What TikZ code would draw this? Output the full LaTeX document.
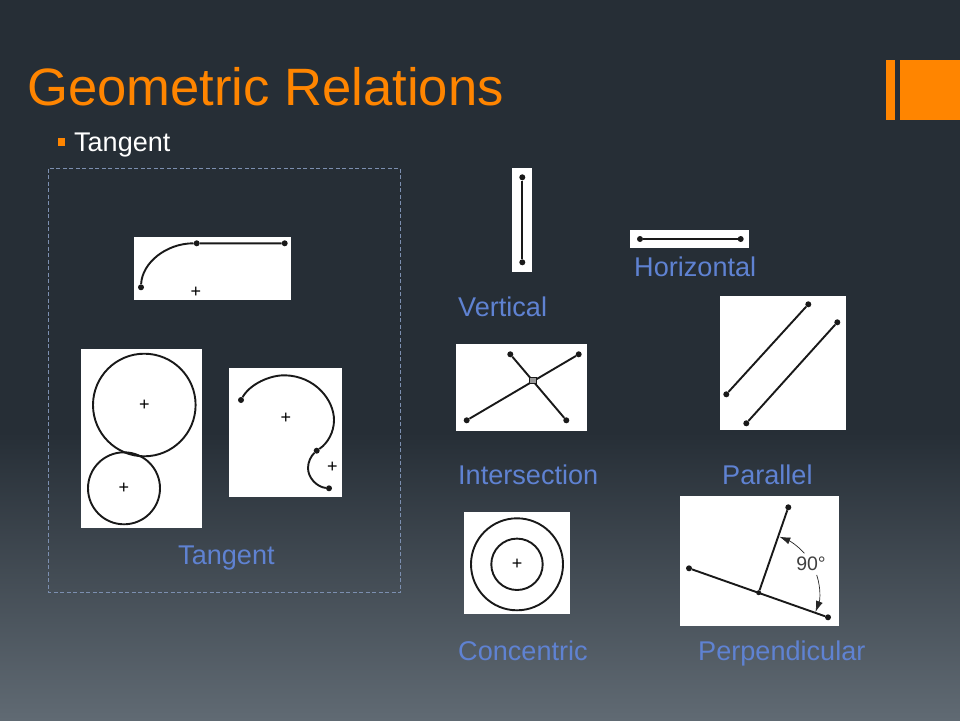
\documentclass[tikz,border=0pt]{standalone}
\usepackage{fontspec}
\setmainfont{Liberation Sans}
\usetikzlibrary{arrows.meta}
\definecolor{bgtop}{HTML}{262E36}
\definecolor{bgbot}{HTML}{606A73}
\definecolor{accent}{HTML}{FF8500}
\definecolor{labelblue}{HTML}{5F82D2}
\definecolor{framedash}{HTML}{7C8FB0}
\pgfdeclareverticalshading{slidebg}{100bp}{color(0bp)=(bgbot); color(25bp)=(bgbot); color(45bp)=(bgtop); color(100bp)=(bgtop)}
\tikzset{
  panel/.style={fill=white,draw=none},
  sk/.style={draw=black!90,line width=1.9pt,line join=round},
  dotmark/.style={fill=black!90,draw=none,circle,inner sep=0pt,minimum size=6pt},
  lbl/.style={anchor=base west,inner sep=0pt,text=labelblue,font=\fontsize{27.1}{27.1}\selectfont},
  crossm/.style={inner sep=0pt,font=\fontsize{18}{18}\selectfont,text=black},
}
\begin{document}
\begin{tikzpicture}[x=1pt,y=-1pt]
\useasboundingbox (0,0) rectangle (960,720);
\shade[shading=slidebg] (0,0) rectangle (960,720);
% accent
\fill[accent] (886,60) rectangle (895,120);
\fill[accent] (900,60) rectangle (960,120);
% title
\node[anchor=base west,inner sep=0pt,text=accent,font=\fontsize{52.6}{52.6}\selectfont] (title) at (27,105) {Geometric Relations};
\fill[accent] (58,138) rectangle (65,146);
\node[anchor=base west,inner sep=0pt,text=white,font=\fontsize{27}{27}\selectfont] (sub) at (74,151) {Tangent};
% dashed frame
\draw[framedash,line width=0.8pt,dash pattern=on 4pt off 2.5pt] (48.5,168.5) rectangle (400.5,592.5);
% panels
\fill[panel] (134,237) rectangle (291,300);
\fill[panel] (81,349) rectangle (202,528);
\fill[panel] (229,368) rectangle (342,497);
\fill[panel] (512,168) rectangle (532,272);
\fill[panel] (630,230) rectangle (749,248);
\fill[panel] (456,344) rectangle (587,431);
\fill[panel] (720,296) rectangle (846,430);
\fill[panel] (464,512) rectangle (570,614);
\fill[panel] (680,496) rectangle (839,626);
% tangent top
\node[dotmark] (ta) at (141,287.3) {};
\node[dotmark] (tb) at (196.7,243.3) {};
\node[dotmark] (tc) at (284.7,243.3) {};
\draw[sk] (ta) .. controls (142,263) and (166,243.3) .. (tb) -- (tc);
\node[crossm] (tp) at (196,292.7) {+};
% two circles
\draw[sk] (144.3,405) circle[radius=51.3pt];
\draw[sk] (124,488.3) circle[radius=36pt];
\node[crossm] (c1) at (144.3,405) {+};
\node[crossm] (c2) at (124,488.3) {+};
% arc pair
\node[dotmark] (aa) at (241,400) {};
\node[dotmark] (ab) at (316.7,450.7) {};
\node[dotmark] (ac) at (329,488.3) {};
\draw[sk] (aa) .. controls (250,384) and (270,375) .. (285,375.3)
   .. controls (315,376) and (334,400) .. (334,420)
   .. controls (334,432) and (328,443) .. (ab)
   .. controls (311,456) and (308,462) .. (308,468)
   .. controls (308,478) and (317,487) .. (ac);
\node[crossm] (a1) at (286,418.3) {+};
\node[crossm] (a2) at (332.3,467.3) {+};
% vertical
\node[dotmark] (va) at (522.3,177.3) {};
\node[dotmark] (vb) at (522.3,262.3) {};
\draw[sk] (va) -- (vb);
% horizontal
\node[dotmark] (ha) at (640,239) {};
\node[dotmark] (hb) at (740.7,239) {};
\draw[sk] (ha) -- (hb);
% intersection
\node[dotmark] (ia) at (510.3,354.3) {};
\node[dotmark] (ib) at (566.3,420.3) {};
\node[dotmark] (ic) at (466.7,420.3) {};
\node[dotmark] (id) at (578.7,354.3) {};
\draw[sk] (ia) -- (ib);
\draw[sk] (ic) -- (id);
\node[draw=black!90,fill=black!40,line width=0.7pt,minimum size=6.5pt,inner sep=0pt] (is) at (532.7,380.3) {};
% parallel
\node[dotmark] (pa) at (726.3,394.3) {};
\node[dotmark] (pb) at (808.3,304.3) {};
\node[dotmark] (pc) at (746.3,423.3) {};
\node[dotmark] (pd) at (837.3,322.3) {};
\draw[sk] (pa) -- (pb);
\draw[sk] (pc) -- (pd);
% concentric
\draw[sk] (517,564.3) circle[radius=46pt];
\draw[sk] (517,564.3) circle[radius=25.7pt];
\node[crossm] (cc) at (517,564.3) {+};
% perpendicular
\node[dotmark] (qa) at (689,568.3) {};
\node[dotmark] (qb) at (828,617.3) {};
\node[dotmark] (qc) at (788.3,507.3) {};
\node[dotmark,minimum size=5pt] (qd) at (758.7,592.7) {};
\draw[sk] (qa) -- (qb);
\draw[sk] (qc) -- (qd);
\node[inner sep=0pt,font=\fontsize{19.5}{19.5}\selectfont,text=black!75] (deg) at (811,564) {90°};
\coordinate (q1) at (779.3,536.7);
\coordinate (q2) at (815.5,612);
\draw[black!85,line width=0.7pt,-{Latex[length=11pt,width=7pt]}] (804.3,553.3) .. controls (798,546) and (790,541) .. (q1);
\draw[black!85,line width=0.7pt,-{Latex[length=11pt,width=7pt]}] (816.7,575) .. controls (821,588) and (820,600) .. (q2);
% labels
\node[lbl] (l1) at (634,276) {Horizontal};
\node[lbl] (l2) at (458,316) {Vertical};
\node[lbl] (l3) at (458,484) {Intersection};
\node[lbl] (l4) at (722,484) {Parallel};
\node[lbl] (l5) at (178,564) {Tangent};
\node[lbl] (l6) at (458,660) {Concentric};
\node[lbl] (l7) at (698,660) {Perpendicular};
\end{tikzpicture}
\end{document}
